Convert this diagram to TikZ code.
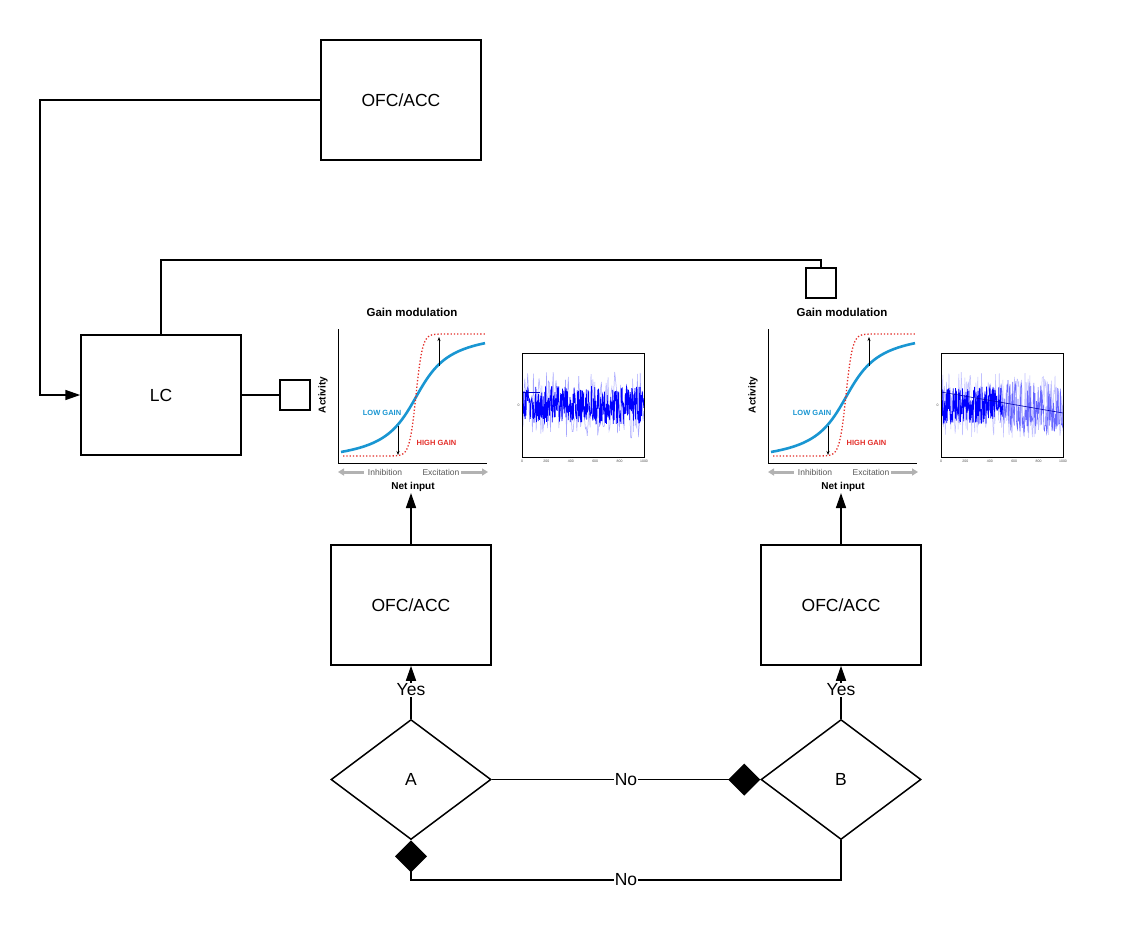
\documentclass[tikz,border=0pt]{standalone}
\usepackage{fontspec}
\setmainfont{Liberation Sans}
\usetikzlibrary{arrows.meta,shapes.geometric}
\definecolor{gblue}{RGB}{25,150,210}
\definecolor{gred}{RGB}{228,45,40}
\newcommand\mygainplot[2]{%
\begin{scope}[xshift=#1pt]
  \node[font=\bfseries\fontsize{11.5}{13}\selectfont] (gt#2) at (412,312) {Gain modulation};
  \draw[line width=1pt] (338,329) -- (338,463) -- (487,463);
  \node[font=\bfseries\fontsize{10}{11}\selectfont,rotate=90] (ga#2) at (323,395) {Activity};
  \draw[gblue,line width=2.6pt] plot[domain=341:485,samples=60,smooth] (\x,{397-0.768*atan((\x-416)/25)});
  \draw[gred,line width=1.3pt,dotted] plot[domain=343:486,samples=120] (\x,{395-61*tanh(max(-4,min(4,(\x-416)/6.5)))});
  \draw[line width=0.6pt,-{Stealth[length=4pt,width=3pt]}] (398,426) -- (398,455);
  \draw[line width=0.6pt,-{Stealth[length=4pt,width=3pt]}] (439,366) -- (439,337);
  \node[gblue,font=\bfseries\fontsize{7.5}{8}\selectfont] (gl#2) at (382,413) {LOW GAIN};
  \node[gred,font=\bfseries\fontsize{7.5}{8}\selectfont] (gh#2) at (436.5,443) {HIGH GAIN};
  \draw[gray!60,line width=3pt,{Triangle[length=6pt,width=7pt]}-] (338,472) -- (364,472);
  \draw[gray!60,line width=3pt,-{Triangle[length=6pt,width=7pt]}] (461,472) -- (488,472);
  \node[inner sep=1pt,text=black!65,font=\fontsize{8.5}{9}\selectfont] (gi#2) at (385,472) {Inhibition};
  \node[inner sep=1pt,text=black!65,font=\fontsize{8.5}{9}\selectfont] (ge#2) at (441,472) {Excitation};
  \node[font=\bfseries\fontsize{10}{11}\selectfont] (gn#2) at (413,487) {Net input};
\end{scope}}
\newcommand\myticks[2]{%
\begin{scope}[xshift=#1pt,font=\fontsize{3.5}{4}\selectfont,text=black!70,inner sep=0pt]
  \node (t0#2) at (522,461) {0};
  \node (t1#2) at (546.4,461) {200};
  \node (t2#2) at (570.8,461) {400};
  \node (t3#2) at (595.2,461) {600};
  \node (t4#2) at (619.6,461) {800};
  \node (t5#2) at (644,461) {1000};
  \node (ty#2) at (518.5,405) {0};
\end{scope}}
\begin{document}
\begin{tikzpicture}[x=1pt,y=-1pt,
  box/.style={draw,line width=1.5pt,minimum width=160pt,minimum height=120pt,inner sep=0pt,font=\fontsize{17.5}{20}\selectfont},
  dec/.style={draw,diamond,aspect=1.3333,line width=1.5pt,minimum width=160pt,minimum height=120pt,inner sep=0pt,font=\fontsize{17.5}{20}\selectfont},
  sq/.style={draw,line width=1.5pt,minimum width=30pt,minimum height=30pt,inner sep=0pt},
  conn/.style={line width=1.5pt},
  arr/.style={conn,-{Triangle[length=15pt,width=10pt]}},
  darr/.style={conn,-{Diamond[length=32pt,width=32pt]}},
  lab/.style={fill=white,inner sep=1pt,font=\fontsize{17.5}{20}\selectfont},
  nbox/.style={draw,line width=0.8pt,minimum width=122pt,minimum height=104pt,inner sep=0pt}]
\useasboundingbox (0,0) rectangle (1121,932);
\fill[white] (0,0) rectangle (1121,932);

% boxes
\node[box] (ofc1) at (401,100) {OFC/ACC};
\node[box] (lc) at (161,395) {LC};
\node[box] (ofc2) at (411,605) {OFC/ACC};
\node[box] (ofc3) at (841,605) {OFC/ACC};
\node[dec] (A) at (411,779.5) {A};
\node[dec] (B) at (841,779.5) {B};
\node[sq] (s1) at (295,395) {};
\node[sq] (s2) at (821,283) {};

% gain plots
\mygainplot{0}{a}
\mygainplot{430}{b}
\coordinate (g1) at (411,493);
\coordinate (g2) at (841,493);

% noise plot 1
\begin{scope}
  \clip (522,353) rectangle (644,457);
  \pgfmathsetseed{3}
  \draw[blue!35,line width=0.5pt] plot[domain=522:644,samples=130] (\x,{405+33*rand});
  \draw[blue,line width=0.7pt] plot[domain=522:644,samples=420] (\x,{405+19*rand});
  \draw[blue!80!black,line width=0.6pt] (522,392) -- (540,392);
\end{scope}
\node[nbox] (n1) at (583,405) {};
\myticks{0}{a}

% noise plot 2
\begin{scope}
  \clip (941,353) rectangle (1063,457);
  \pgfmathsetseed{5}
  \draw[blue!25,line width=0.5pt] plot[domain=941:1063,samples=200] (\x,{405+33*rand});
  \draw[blue!60,line width=0.6pt] plot[domain=1000:1063,samples=120] (\x,{405+(\x-1000)*0.1+26*rand});
  \draw[blue,line width=0.7pt] plot[domain=941:1003,samples=220] (\x,{405+19*rand});
  \draw[blue!70!black,line width=0.6pt] (941,392) -- (1063,413);
\end{scope}
\node[nbox] (n2) at (1002,405) {};
\myticks{419}{b}

% connectors
\coordinate (c1) at (40,100);
\coordinate (c2) at (40,395);
\draw[arr] (ofc1.west) -- (c1) -- (c2) -- (lc.west);
\draw[conn] (lc.east) -- (s1.west);
\coordinate (c3) at (161,260);
\coordinate (c4) at (821,260);
\draw[conn] (lc.north) -- (c3) -- (c4) -- (s2.north);
\draw[arr] (ofc2.north) -- (g1);
\draw[arr] (ofc3.north) -- (g2);
\draw[arr] (A.north) -- node[lab,pos=0.55] (y1) {Yes} (ofc2.south);
\draw[arr] (B.north) -- node[lab,pos=0.55] (y2) {Yes} (ofc3.south);
\draw[darr] (A.east) -- node[lab] (no1) {No} (B.west);
\coordinate (c5) at (841,880);
\coordinate (c6) at (411,880);
\draw[darr] (B.south) -- (c5) -- node[lab] (no2) {No} (c6) -- (A.south);
\end{tikzpicture}
\end{document}
